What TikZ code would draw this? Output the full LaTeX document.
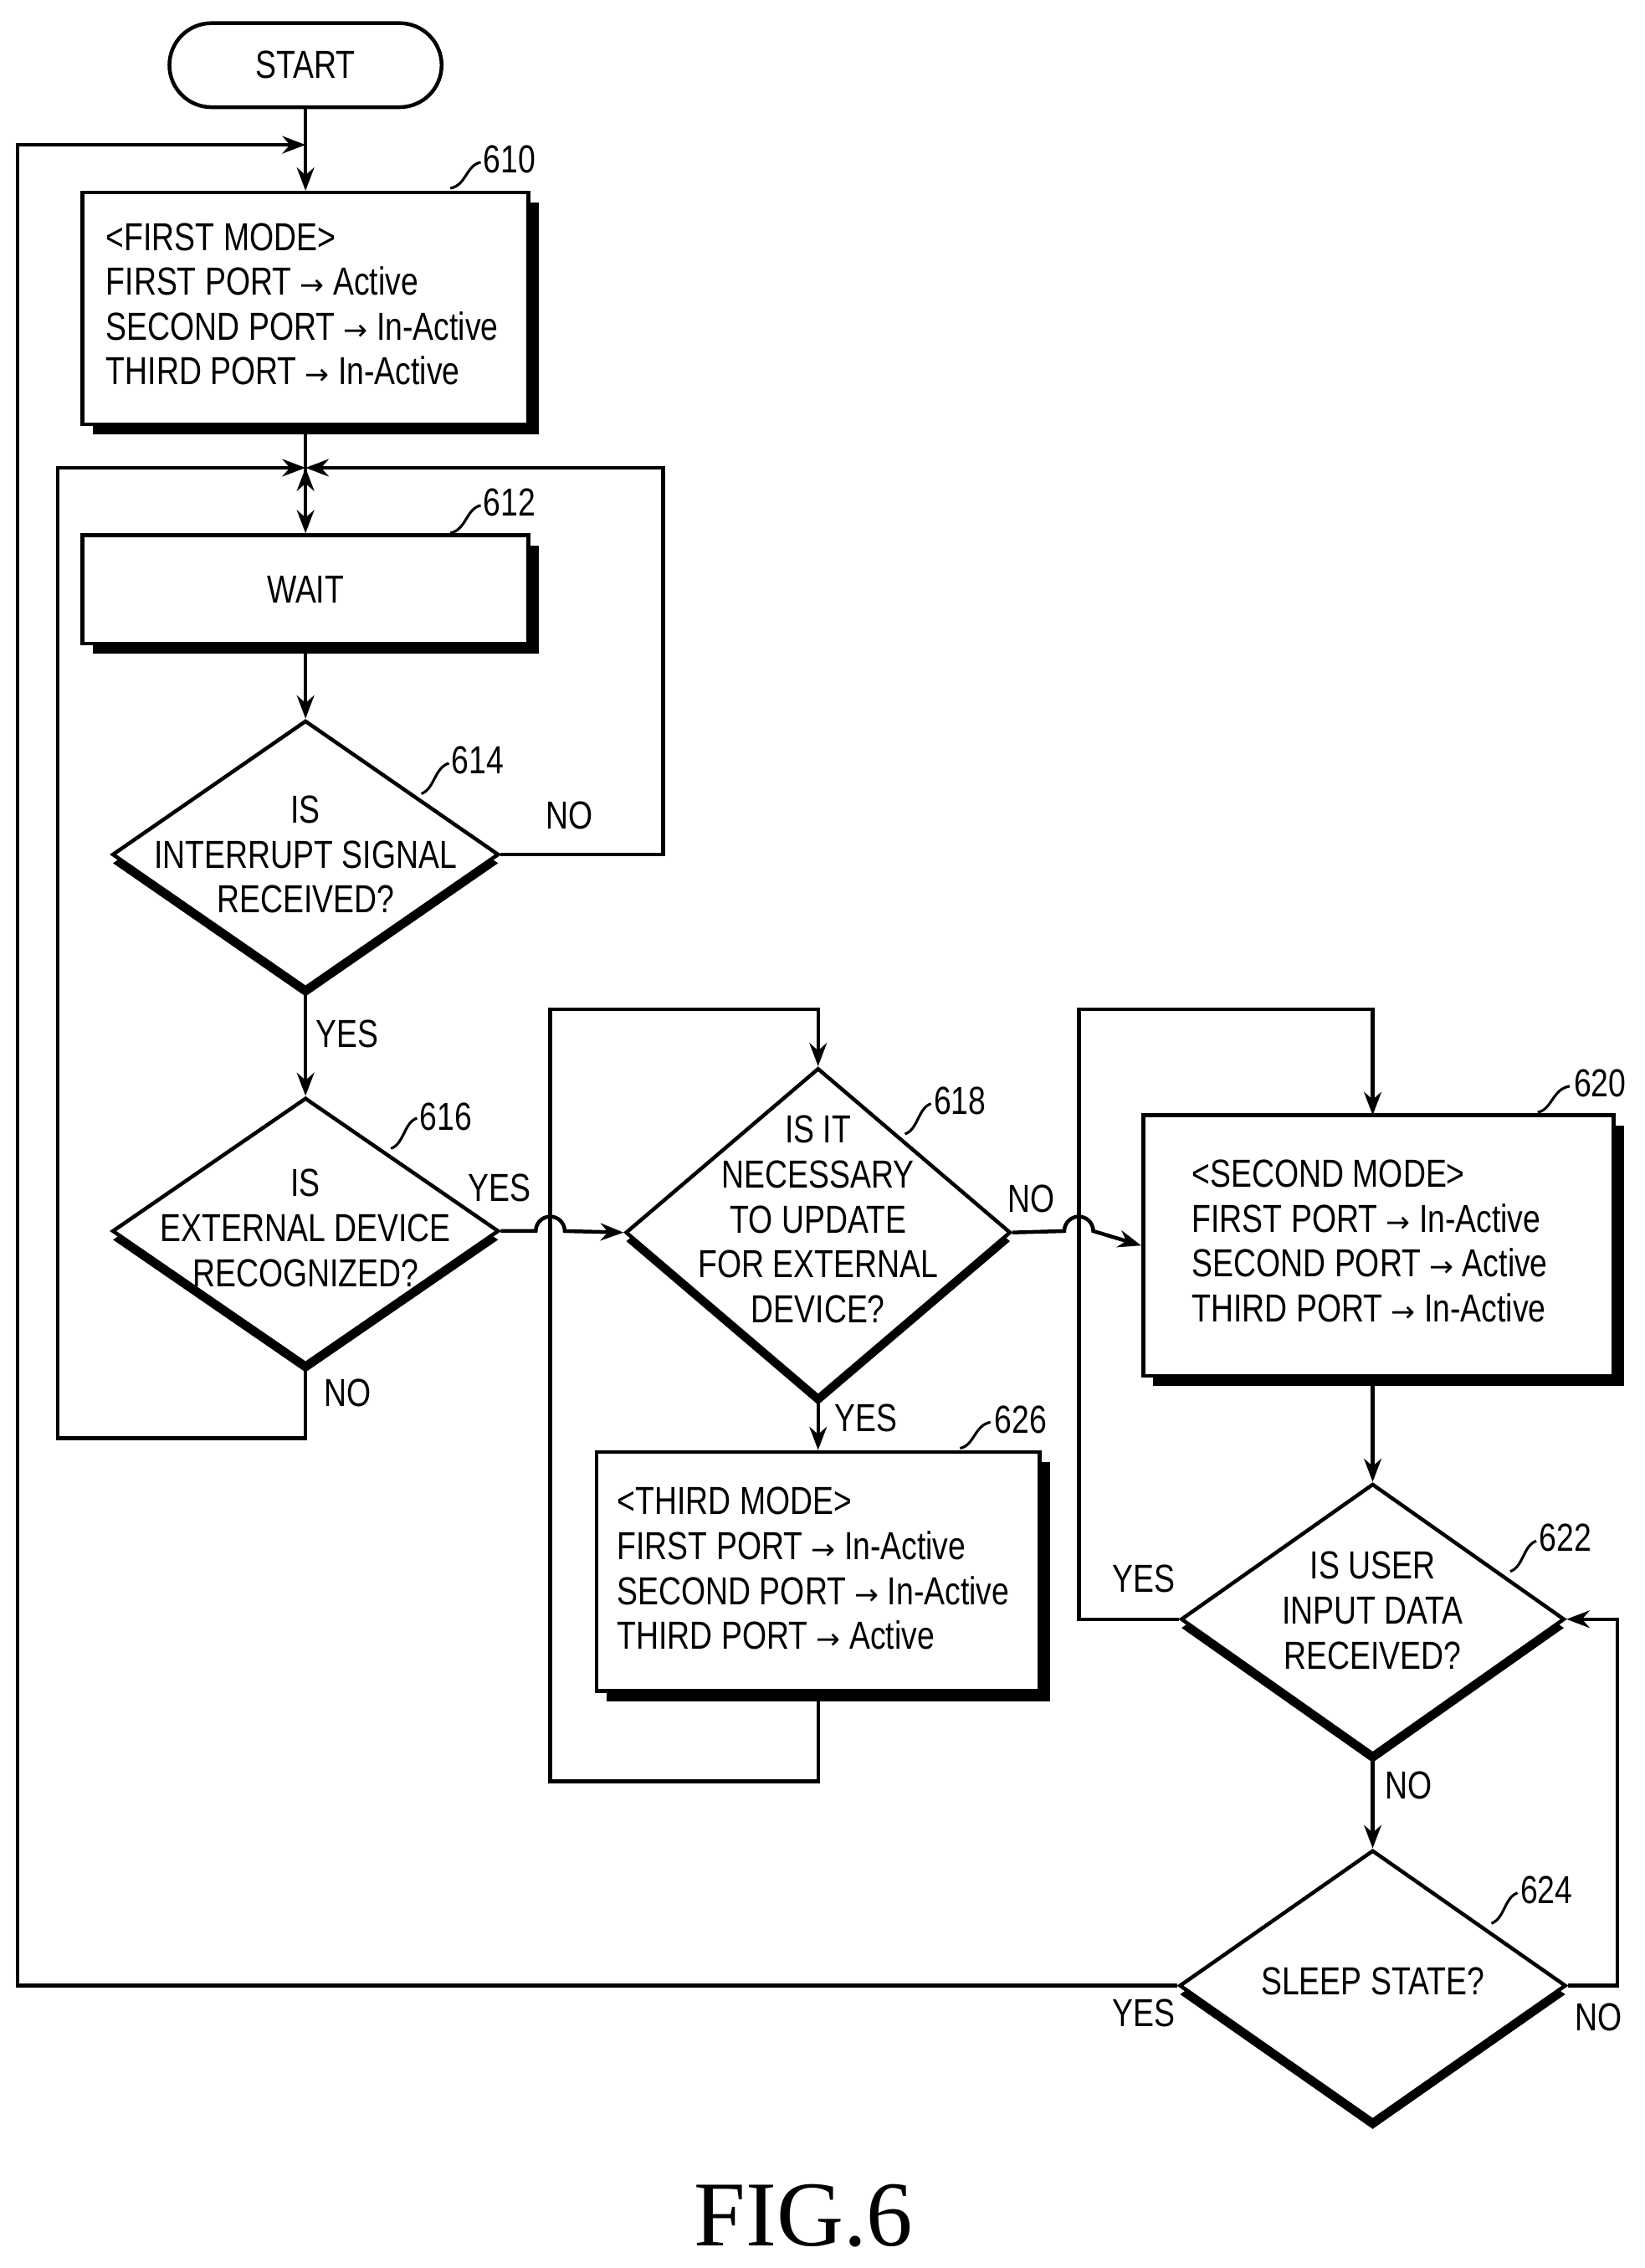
\documentclass[tikz,border=0pt]{standalone}
\usepackage{fontspec}
\setmainfont[FakeStretch=0.8]{Liberation Sans}
\newfontfamily\figfont{Liberation Serif}
\usetikzlibrary{shapes.geometric,shadows,arrows.meta}
\begin{document}
\begin{tikzpicture}[x=1pt,y=-1pt,line width=2.6pt,
  txt/.style={font=\fontsize{27}{31}\selectfont,align=center,inner sep=0},
  ltxt/.style={font=\fontsize{27}{31}\selectfont,align=left,inner sep=0,anchor=west},
  lab/.style={font=\fontsize{27}{31}\selectfont,inner sep=0},
  box/.style={draw,fill=white,rectangle,inner sep=0,drop shadow={shadow xshift=7pt,shadow yshift=-7pt,fill=black,opacity=1}},
  dia/.style={draw,fill=white,diamond,inner sep=0,drop shadow={shadow xshift=0pt,shadow yshift=-6pt,fill=black,opacity=1}},
  arr/.style={-{Stealth[length=16pt,width=12pt]}},
  tick/.style={line width=1.8pt}]
\useasboundingbox (0,0) rectangle (1136,1566);
% START
\node[draw,rounded corners=29pt,minimum width=188pt,minimum height=58pt,txt] (start) at (211,45) {START};
% 610
\node[box,minimum width=308pt,minimum height=160pt] (b610) at (211,213) {};
\node[ltxt] (t610) at (72,210) {<FIRST MODE>\\FIRST PORT {\fontspec{DejaVu Sans}\fontsize{20}{31}\selectfont→} Active\\SECOND PORT {\fontspec{DejaVu Sans}\fontsize{20}{31}\selectfont→} In-Active\\THIRD PORT {\fontspec{DejaVu Sans}\fontsize{20}{31}\selectfont→} In-Active};
% 612
\node[box,minimum width=308pt,minimum height=75pt] (b612) at (211,407) {};
\node[txt] at (b612) {WAIT};
% diamonds
\node[dia,minimum width=267pt,minimum height=185pt,aspect=1.44] (d614) at (211,590) {};
\node[txt] at (211,590) {IS\\INTERRUPT SIGNAL\\RECEIVED?};
\node[dia,minimum width=267pt,minimum height=184pt,aspect=1.45] (d616) at (211,850) {};
\node[txt] at (211,848) {IS\\EXTERNAL DEVICE\\RECOGNIZED?};
\node[dia,minimum width=266pt,minimum height=227pt,aspect=1.17] (d618) at (565,851) {};
\node[txt] at (565,842) {IS IT\\NECESSARY\\TO UPDATE\\FOR EXTERNAL\\DEVICE?};
\node[box,minimum width=325pt,minimum height=180pt] (b620) at (952,860) {};
\node[ltxt] at (822,857) {<SECOND MODE>\\FIRST PORT {\fontspec{DejaVu Sans}\fontsize{20}{31}\selectfont→} In-Active\\SECOND PORT {\fontspec{DejaVu Sans}\fontsize{20}{31}\selectfont→} Active\\THIRD PORT {\fontspec{DejaVu Sans}\fontsize{20}{31}\selectfont→} In-Active};
\node[box,minimum width=306pt,minimum height=165pt] (b626) at (565,1085) {};
\node[ltxt] at (425,1083) {<THIRD MODE>\\FIRST PORT {\fontspec{DejaVu Sans}\fontsize{20}{31}\selectfont→} In-Active\\SECOND PORT {\fontspec{DejaVu Sans}\fontsize{20}{31}\selectfont→} In-Active\\THIRD PORT {\fontspec{DejaVu Sans}\fontsize{20}{31}\selectfont→} Active};
\node[dia,minimum width=265pt,minimum height=187pt,aspect=1.42] (d622) at (948,1118) {};
\node[txt] at (948,1112) {IS USER\\INPUT DATA\\RECEIVED?};
\node[dia,minimum width=267pt,minimum height=187pt,aspect=1.43] (d624) at (948,1371) {};
\node[txt] at (948,1368) {SLEEP STATE?};
% coordinates
\coordinate (j1) at (211,100);
\coordinate (j2) at (211,323);
% connectors
\draw (start) -- (j1);
\draw[arr] (j1) -- (b610);
\draw[arr] (b610.south) -- ++(0,30) coordinate (jj) -- (j2);
\draw[arr] (j2) -- (b612);
\draw[arr] (b612) -- (d614);
\draw[arr] (d614.east) -- (458,590) -- (458,323) -- (j2);
\draw[arr] (d614.south) -- (d616.north);
\draw[arr] (d616.south) -- (211,993) -- (40,993) -- (40,323) -- (j2);
\draw[arr] (d616.east) -- (370,850) arc[start angle=180,end angle=0,radius=10pt] -- (d618.west);
\draw[arr] (b626.south) -- (565,1230) -- (380,1230) -- (380,697) -- (565,697) -- (d618.north);
\draw[arr] (d618.south) -- (b626.north);
\draw[arr] (d618.east) -- (735,850) arc[start angle=180,end angle=0,radius=10pt] -- (b620.west);
\draw[arr] (d622.west) -- (745,1118) -- (745,697) -- (948,697) -- (948,770);
\draw[arr] (948,950) -- (d622.north);
\draw[arr] (d622.south) -- (d624.north);
\draw[arr] (d624.east) -- (1117,1371) -- (1117,1118) -- (d622.east);
\draw[arr] (d624.west) -- (12,1371) -- (12,100) -- (j1);
% reference labels
\node[lab] at (352,110) {610};
\draw[tick] (311,130) .. controls (322,128) and (322,114) .. (332,112);
\node[lab] at (352,347) {612};
\draw[tick] (311,368) .. controls (322,366) and (322,351) .. (332,349);
\node[lab] at (330,525) {614};
\draw[tick] (291,548) .. controls (300,545) and (300,530) .. (310,527);
\node[lab] at (308,771) {616};
\draw[tick] (270,793) .. controls (279,790) and (279,775) .. (288,772);
\node[lab] at (663,760) {618};
\draw[tick] (625,783) .. controls (634,780) and (634,765) .. (643,762);
\node[lab] at (1105,748) {620};
\draw[tick] (1062,768) .. controls (1072,766) and (1072,752) .. (1084,750);
\node[lab] at (705,980) {626};
\draw[tick] (663,1000) .. controls (673,998) and (673,984) .. (684,982);
\node[lab] at (1081,1062) {622};
\draw[tick] (1043,1085) .. controls (1052,1082) and (1052,1067) .. (1061,1064);
\node[lab] at (1068,1305) {624};
\draw[tick] (1030,1328) .. controls (1039,1325) and (1039,1310) .. (1048,1307);
% yes/no
\node[lab] at (393,563) {NO};
\node[lab] at (240,714) {YES};
\node[lab] at (345,820) {YES};
\node[lab] at (240,962) {NO};
\node[lab] at (712,828) {NO};
\node[lab] at (598,979) {YES};
\node[lab] at (790,1090) {YES};
\node[lab] at (973,1233) {NO};
\node[lab] at (790,1390) {YES};
\node[lab] at (1104,1393) {NO};
\node[inner sep=0,font=\figfont\fontsize{64}{64}\selectfont] (fig) at (555,1530) {FIG.6};
\end{tikzpicture}
\end{document}
